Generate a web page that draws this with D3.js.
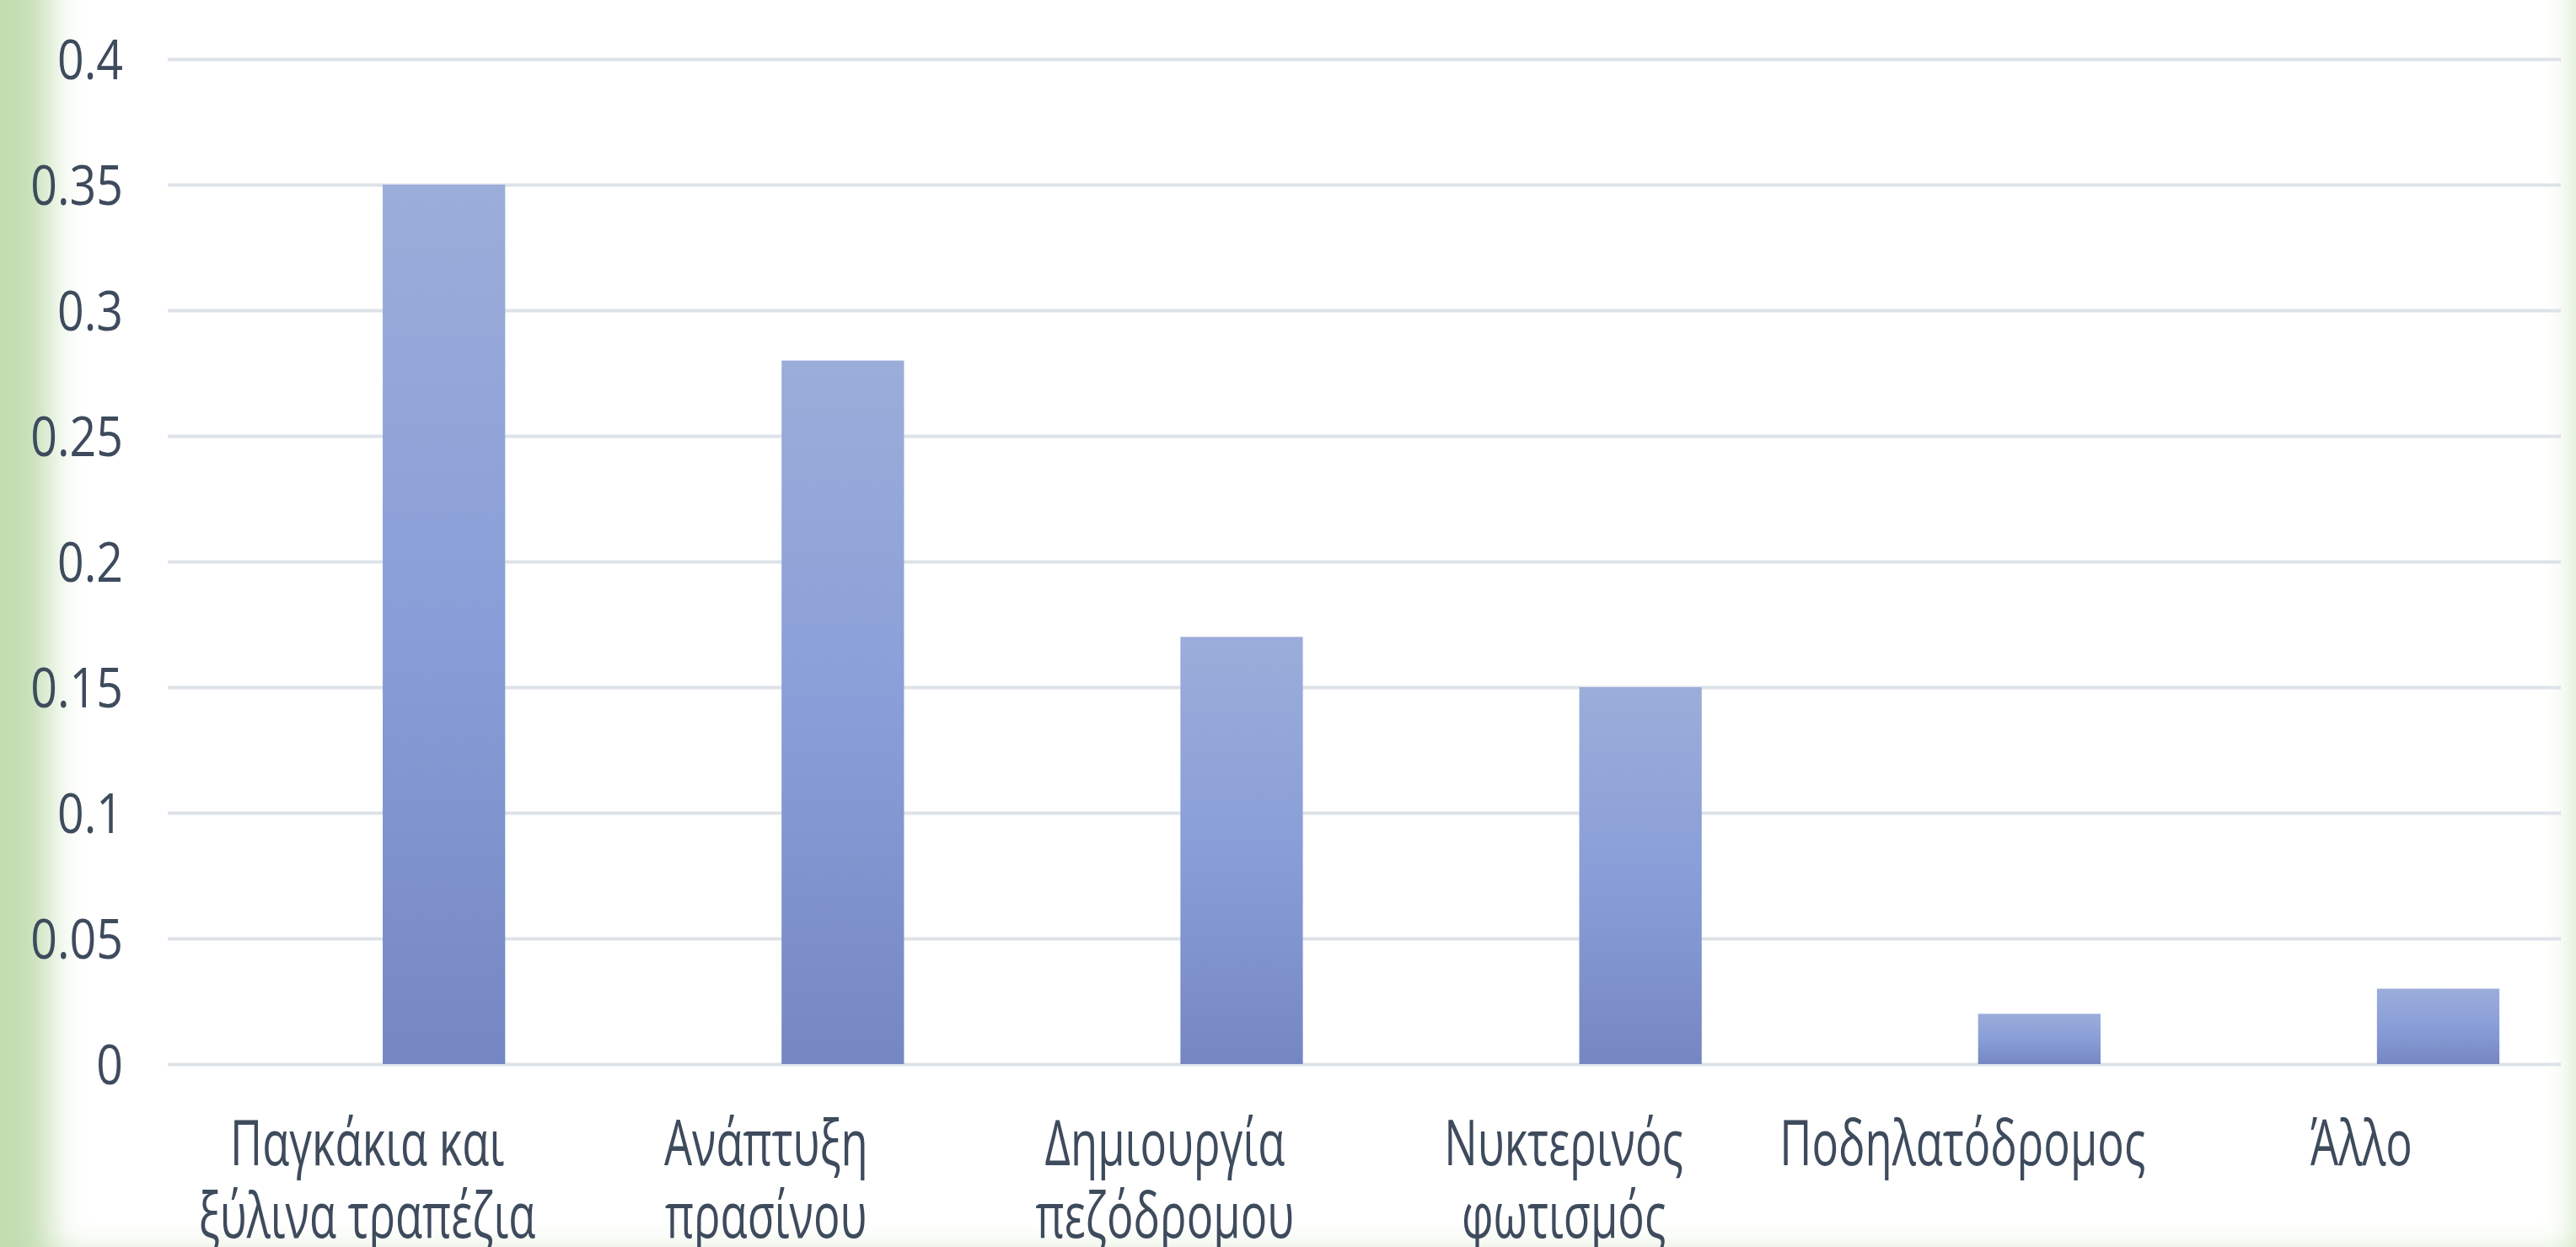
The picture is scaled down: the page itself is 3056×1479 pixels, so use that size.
<!DOCTYPE html>
<html>
<head>
<meta charset="utf-8">
<script src="https://cdn.jsdelivr.net/npm/d3@7"></script>
<style>
  html, body { margin: 0; padding: 0; background: #ffffff; overflow: hidden; }
  svg { display: block; }
</style>
</head>
<body>
<div id="chart"></div>
<script>
// data
const categories = [
    ["Παγκάκια και", "ξύλινα τραπέζια"],
    ["Ανάπτυξη", "πρασίνου"],
    ["Δημιουργία", "πεζόδρομου"],
    ["Νυκτερινός", "φωτισμός"],
    ["Ποδηλατόδρομος"],
    ["Άλλο"]
];
const values = [0.35, 0.28, 0.17, 0.15, 0.02, 0.03];
const yTicks = [0, 0.05, 0.1, 0.15, 0.2, 0.25, 0.3, 0.35, 0.4];

const width = 3056;
const height = 1479;
const margin = { top: 70, right: 18, bottom: 217, left: 199 };
const textColor = "#3e4b5d";

const svg = d3.select("#chart")
    .append("svg")
    .attr("width", width)
    .attr("height", height);

const defs = svg.append("defs");

// soft white panel over a green slide background
const blur = defs.append("filter").attr("id", "soft")
    .attr("x", "-5%").attr("y", "-5%").attr("width", "110%").attr("height", "110%");
blur.append("feGaussianBlur").attr("stdDeviation", 20);

const barGrad = defs.append("linearGradient")
    .attr("id", "barGrad")
    .attr("x1", 0).attr("y1", 0).attr("x2", 0).attr("y2", 1);
barGrad.append("stop").attr("offset", "0%").attr("stop-color", "#9badd9");
barGrad.append("stop").attr("offset", "50%").attr("stop-color", "#899ed8");
barGrad.append("stop").attr("offset", "100%").attr("stop-color", "#7587c2");

svg.append("rect")
    .attr("width", width).attr("height", height)
    .attr("fill", "#c3ddb1");
svg.append("rect")
    .attr("x", 58).attr("y", -120)
    .attr("width", 3002).attr("height", 1612)
    .attr("fill", "#ffffff")
    .attr("filter", "url(#soft)");

const plotW = width - margin.left - margin.right;
const plotH = height - margin.top - margin.bottom;

const x = d3.scaleBand()
    .domain(d3.range(categories.length))
    .range([0, plotW]);

const y = d3.scaleLinear()
    .domain([0, 0.4])
    .range([plotH, 0]);

const g = svg.append("g")
    .attr("transform", `translate(${margin.left},${margin.top})`);

// y axis + gridlines
const yAxis = g.append("g")
    .call(d3.axisLeft(y)
        .tickValues(yTicks)
        .tickSize(-plotW)
        .tickFormat(d => d3.format("~g")(d)));

yAxis.select(".domain").remove();
yAxis.selectAll(".tick line")
    .attr("stroke", "#dee3e9")
    .attr("stroke-width", 4);
yAxis.selectAll(".tick text")
    .attr("x", 0)
    .attr("dy", "0.36em")
    .attr("transform", "translate(-53,0) scale(0.84,1)")
    .attr("fill", textColor)
    .style("font-family", "'Open Sans', 'Noto Sans', sans-serif")
    .style("font-size", "66px");

// bars (second slot of each category, like an Excel cluster)
const barOffset = x.bandwidth() * 0.539;
const barWidth = x.bandwidth() * 0.307;

g.selectAll("rect.bar")
    .data(values)
    .enter()
    .append("rect")
    .attr("class", "bar")
    .attr("x", (d, i) => x(i) + barOffset)
    .attr("y", d => y(d))
    .attr("width", barWidth)
    .attr("height", d => plotH - y(d))
    .attr("fill", "url(#barGrad)");

// category labels
const labels = g.selectAll("g.cat")
    .data(categories)
    .enter()
    .append("g")
    .attr("class", "cat")
    .attr("transform", (d, i) => `translate(${x(i) + x.bandwidth() / 2},${plotH + 120})`);

labels.append("text")
    .attr("text-anchor", "middle")
    .attr("transform", "scale(0.7,1)")
    .attr("fill", textColor)
    .style("font-family", "'Open Sans', 'Noto Sans', sans-serif")
    .style("font-size", "75px")
    .selectAll("tspan")
    .data(d => d)
    .enter()
    .append("tspan")
    .attr("x", 0)
    .attr("dy", (d, i) => i === 0 ? 0 : 86)
    .text(d => d);
</script>
</body>
</html>
